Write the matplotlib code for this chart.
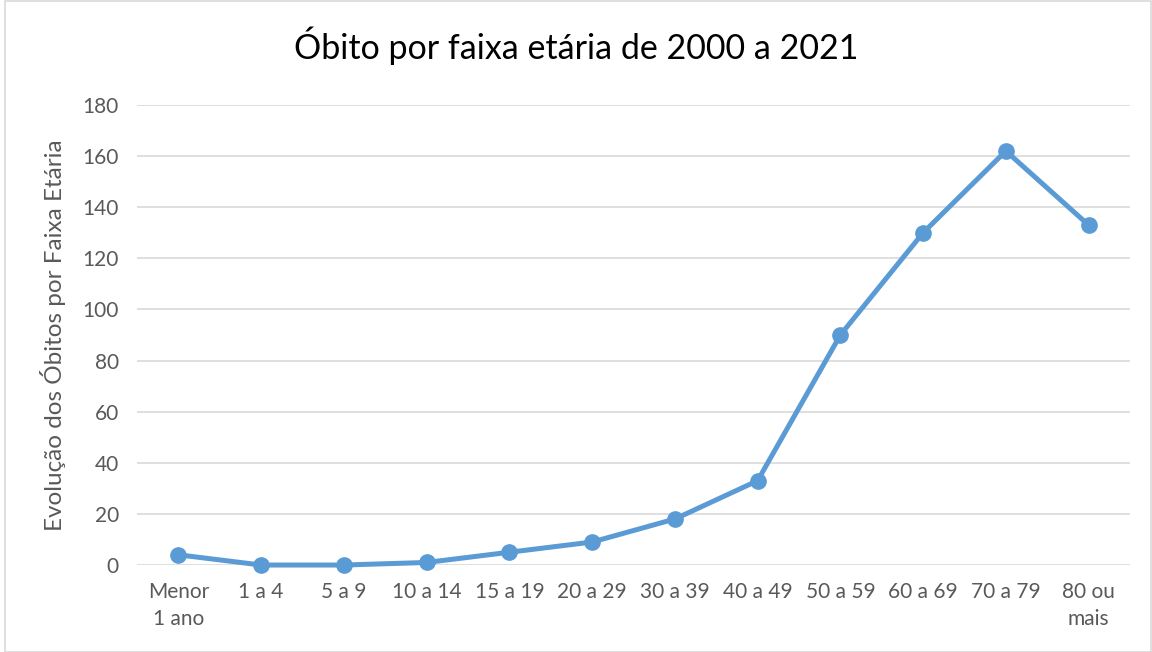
import matplotlib
matplotlib.use('Agg')
import matplotlib.pyplot as plt
from matplotlib.patches import Rectangle

plt.rcParams['font.family'] = ['Lato', 'DejaVu Sans']

# Data
faixas = ['Menor\n1 ano', '1 a 4', '5 a 9', '10 a 14', '15 a 19', '20 a 29',
          '30 a 39', '40 a 49', '50 a 59', '60 a 69', '70 a 79', '80 ou\nmais']
obitos = [4, 0, 0, 1, 5, 9, 18, 33, 90, 130, 162, 133]

text_color = '#595959'
line_color = '#5B9BD5'

fig = plt.figure(figsize=(11.52, 6.52), dpi=100)
ax = fig.add_axes([0.1189, 0.1334, 0.862, 0.7056])

x = list(range(len(faixas)))
ax.plot(x, obitos, color=line_color, linewidth=3.6, marker='o', markersize=11,
        zorder=3, clip_on=False)

ax.set_xlim(-0.5, len(faixas) - 0.5)
ax.set_ylim(0, 180)
ax.set_yticks(range(0, 181, 20))
ax.set_xticks(x)
ax.set_xticklabels(faixas, fontsize=15, color=text_color, linespacing=1.45)
ax.tick_params(axis='y', labelsize=15, labelcolor=text_color, length=0, pad=13)
ax.tick_params(axis='x', length=0, pad=12)

ax.grid(axis='y', color='#D9D9D9', linewidth=1.2)
ax.set_axisbelow(True)
for s in ax.spines.values():
    s.set_visible(False)

ax.set_ylabel('Evolução dos Óbitos por Faixa Etária', fontsize=17.5,
              color=text_color, labelpad=12)
fig.suptitle('Óbito por faixa etária de 2000 a 2021', fontsize=24.5,
             color='black', y=0.96)

# light border around the chart area
fig.patches.append(Rectangle((0.004, 0.0), 0.995, 0.998, transform=fig.transFigure,
                             fill=False, edgecolor='#D9D9D9', linewidth=1.2))

fig.savefig('out.png', dpi=100)
